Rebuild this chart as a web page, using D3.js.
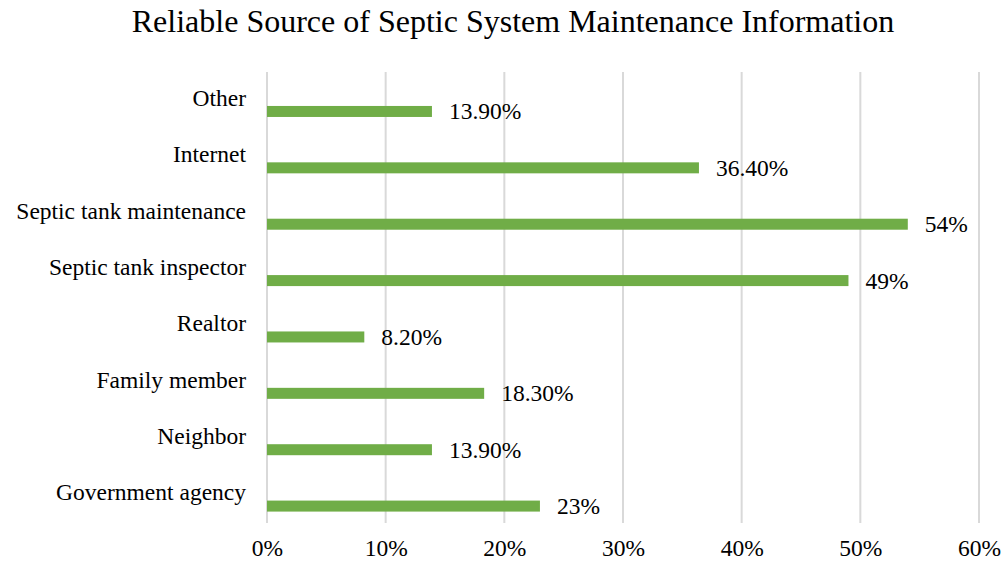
<!DOCTYPE html>
<html>
<head>
<meta charset="utf-8">
<script src="https://cdn.jsdelivr.net/npm/d3@7"></script>
<style>
  body { margin: 0; background: #fff; }
  svg { display: block; font-family: "Liberation Serif", "Times New Roman", serif; }
</style>
</head>
<body>
<svg id="chart"></svg>
<script>
const categories = ["Other", "Internet", "Septic tank maintenance", "Septic tank inspector",
                    "Realtor", "Family member", "Neighbor", "Government agency"];
const values = [13.9, 36.4, 54, 49, 8.2, 18.3, 13.9, 23];
const valueLabels = ["13.90%", "36.40%", "54%", "49%", "8.20%", "18.30%", "13.90%", "23%"];
const ticks = [0, 10, 20, 30, 40, 50, 60];

const width = 1006;
const height = 563;
const margin = {top: 72, right: 27, bottom: 40, left: 267};
const fontSize = "23.5px";

const svg = d3.select("#chart")
  .attr("width", width)
  .attr("height", height);

// title
svg.append("text")
  .attr("x", 513)
  .attr("y", 32)
  .attr("text-anchor", "middle")
  .style("font-size", "32px")
  .text("Reliable Source of Septic System Maintenance Information");

const x = d3.scaleLinear()
  .domain([0, 60])
  .range([margin.left, width - margin.right]);

const y = d3.scaleBand()
  .domain(categories)
  .range([margin.top, height - margin.bottom])
  .padding(0);

//gridlines
svg.append("g")
  .selectAll("line")
  .data(ticks)
  .join("line")
    .attr("x1", d => x(d))
    .attr("x2", d => x(d))
    .attr("y1", margin.top)
    .attr("y2", height - margin.bottom)
    .style("stroke", "#d9d9d9")
    .style("stroke-width", 2);

// x axis labels
const xAxis = d3.axisBottom(x)
  .tickValues(ticks)
  .tickFormat(d => d + "%")
  .tickSize(0)
  .tickPadding(0);

svg.append("g")
  .attr("transform", `translate(0, ${height - margin.bottom + 16})`)
  .call(xAxis)
  .call(g => g.select(".domain").remove())
  .selectAll("text")
    .style("font-family", "'Liberation Serif', 'Times New Roman', serif")
    .style("font-size", fontSize)
    .style("fill", "#000");

const barH = 11;
const barCenter = d => y(d) + y.bandwidth() * 0.7;

// bars
svg.append("g")
  .selectAll("rect")
  .data(categories)
  .join("rect")
    .attr("x", x(0))
    .attr("y", d => barCenter(d) - barH / 2)
    .attr("width", (d, i) => x(values[i]) - x(0))
    .attr("height", barH)
    .style("fill", "#70ad47");

// category labels
svg.append("g")
  .selectAll("text")
  .data(categories)
  .join("text")
    .attr("x", margin.left - 21)
    .attr("y", d => y(d) + y.bandwidth() * 0.6)
    .attr("text-anchor", "end")
    .style("font-size", fontSize)
    .text(d => d);

// value labels
svg.append("g")
  .selectAll("text")
  .data(categories)
  .join("text")
    .attr("x", (d, i) => x(values[i]) + 17)
    .attr("y", d => barCenter(d) + 8)
    .style("font-size", fontSize)
    .text((d, i) => valueLabels[i]);
</script>
</body>
</html>
